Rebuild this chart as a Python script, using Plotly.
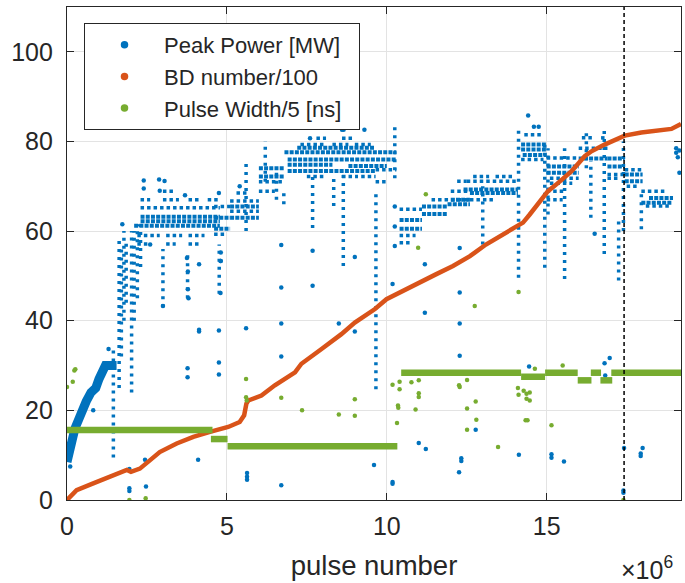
import plotly.graph_objects as go

# ---------------- data (x in units of 1e6 pulses) ----------------
# Peak Power [MW] -- initial conditioning ramp (centre of the thick band)
pp_ramp_x = [0.0, 0.05, 0.15, 0.25, 0.35, 0.5, 0.6, 0.75, 0.9, 1.0, 1.1, 1.2, 1.35, 1.55]
pp_ramp_y = [8.5, 11.0, 13.0, 16.0, 18.0, 20.0, 22.0, 24.0, 25.0, 27.0, 29.0, 30.0, 30.0, 30.0]

# Peak Power -- dense horizontal bands (start, end, level)
pp_dense_x0 = [2.3, 2.1, 2.3, 4.6, 4.6, 5.1, 5.1, 6.0, 6.0, 6.8, 6.9, 6.9, 8.8, 6.9, 7.2,
               10.4, 10.4, 11.1, 11.1, 11.9, 12.0, 12.4, 12.6, 14.2, 14.2, 14.25,
               15.0, 15.0, 16.0, 16.9, 16.9, 17.44, 17.44, 17.96, 18.2]
pp_dense_x1 = [4.78, 4.78, 4.78, 5.1, 5.1, 6.0, 6.0, 6.8, 6.8, 10.3, 10.3, 8.3, 10.0, 9.65, 9.6,
               11.1, 11.1, 11.9, 11.9, 12.6, 12.6, 14.1, 14.1, 15.0, 15.0, 15.0,
               16.0, 16.0, 16.9, 17.44, 17.44, 18.0, 18.0, 18.9, 18.95]
pp_dense_y = [63.2, 61.2, 62.2, 63.0, 60.5, 65.5, 63.0, 74.0, 72.2, 77.6, 76.0, 74.8, 74.5, 73.4, 78.6,
              62.5, 60.5, 65.5, 63.8, 66.0, 67.0, 69.3, 68.5, 79.3, 78.2, 77.0,
              74.4, 73.0, 76.2, 76.2, 74.4, 72.6, 71.1, 66.3, 67.4]

# Peak Power -- sparse rows of dots (start, end, level)
pp_sparse_x0 = [2.3, 2.3, 3.0, 3.8, 4.4, 2.2, 3.1, 3.8, 2.2, 3.1, 3.8, 3.0,
                4.6, 5.1, 5.1, 5.3, 4.6, 6.0, 6.0,
                7.5, 8.6, 9.2, 7.3, 8.3, 9.0, 7.8, 8.6, 9.65, 9.65,
                10.4, 10.4, 10.4, 11.4, 12.0, 12.2,
                12.5, 12.7, 13.4, 12.6, 14.3, 14.2,
                15.0, 15.1, 15.1, 15.0, 15.0, 16.0, 16.1, 16.7,
                16.9, 16.9, 17.44, 17.5, 17.96, 18.1]
pp_sparse_x1 = [4.78, 2.6, 3.5, 4.2, 4.78, 2.9, 3.6, 4.3, 2.6, 3.4, 4.2, 3.4,
                5.1, 6.0, 6.0, 5.7, 5.0, 6.8, 6.5,
                8.1, 9.1, 9.65, 8.1, 8.8, 9.5, 8.1, 9.0, 10.3, 10.0,
                11.1, 10.9, 10.8, 12.6, 12.6, 12.5,
                14.1, 13.2, 14.0, 13.4, 14.9, 14.9,
                16.0, 16.0, 15.8, 15.6, 15.5, 16.9, 16.5, 16.85,
                17.44, 17.3, 18.0, 17.9, 18.7, 18.9]
pp_sparse_y = [65.2, 67.0, 67.0, 67.0, 67.0, 59.0, 59.0, 59.0, 57.1, 57.1, 57.1, 68.9,
               65.5, 66.7, 64.4, 68.5, 59.3, 71.0, 68.9,
               72.2, 72.2, 72.2, 79.3, 79.3, 79.3, 80.7, 80.7, 73.7, 71.0,
               64.9, 59.0, 57.4, 67.0, 68.9, 71.1,
               71.1, 72.2, 72.2, 67.0, 81.5, 76.0,
               76.3, 71.8, 70.7, 68.9, 67.0, 78.5, 80.8, 80.8,
               72.6, 71.8, 73.7, 70.0, 68.9, 65.6]

# Peak Power -- vertical sprays of dots (position, lowest, highest)
pp_col_x = [1.45, 1.63, 1.7, 1.78, 1.85, 2.02, 2.1, 2.2, 2.3, 3.0, 3.77, 4.76, 5.6, 6.2,
            6.55, 6.78, 7.68, 8.34, 8.64, 9.66, 10.25, 13.0, 14.12, 14.94, 15.04, 15.56,
            16.24, 16.38, 16.8, 17.25, 17.4, 17.96]
pp_col_lo = [9.5, 25.0, 32.0, 40.0, 44.0, 24.0, 40.0, 45.0, 52.0, 43.0, 45.0, 46.0, 60.0, 71.0,
             67.0, 66.0, 60.7, 65.6, 52.2, 24.7, 71.8, 57.0, 49.6, 51.8, 63.7, 49.3,
             74.0, 63.0, 54.9, 49.0, 60.0, 60.4]
pp_col_hi = [34.0, 58.0, 56.0, 60.0, 58.0, 60.0, 60.0, 61.5, 61.5, 56.0, 55.0, 57.0, 76.0, 80.0,
             74.0, 69.0, 72.6, 72.6, 72.6, 69.0, 83.7, 70.0, 82.6, 79.3, 78.5, 78.5,
             82.6, 75.6, 83.3, 63.0, 80.0, 68.2]

# Peak Power -- isolated points
pp_pt_x = [0.82, 1.73, 1.95, 1.95, 1.95, 2.47, 2.44, 4.1, 3.77, 3.77, 4.13, 4.13,
           3.0, 3.8, 4.8, 4.75, 4.75, 4.75, 5.6, 6.7, 8.5, 9.0, 6.7, 5.63, 5.63,
           5.63, 6.7, 9.6, 10.18, 10.18, 11.19, 12.28, 12.28, 11.0, 11.22, 12.33,
           12.33, 12.26, 12.78, 14.13, 14.45, 15.15, 15.15, 15.54, 16.81, 16.97,
           16.83, 17.42, 17.4, 17.4, 17.94, 17.94, 18.0,
           2.4, 2.88, 3.05, 2.4, 2.9, 3.69, 4.75, 3.75, 3.78, 3.78, 4.13, 4.81,
           4.81, 6.7, 6.7, 7.68, 7.68, 9.0, 10.25, 10.25, 10.25, 10.18, 11.19,
           12.28, 12.28, 8.6, 8.65, 9.3, 7.6, 14.42, 14.6, 14.75, 16.5, 19.05,
           19.05, 19.1, 19.15, 19.15, 5.4, 2.6, 4.8, 0.1, 0.2, 1.3]
pp_pt_y = [20.0, 61.5, 2.0, 2.6, 6.9, 3.0, 9.0, 9.0, 29.4, 27.4, 38.0, 37.6,
           43.3, 45.0, 46.2, 37.8, 30.7, 28.0, 38.3, 39.4, 39.4, 37.6, 32.0, 6.0, 5.2,
           4.5, 3.3, 7.8, 4.0, 3.6, 41.8, 39.4, 32.2, 12.7, 11.4, 9.3,
           8.7, 6.2, 15.7, 10.1, 29.8, 10.2, 9.4, 8.6, 30.5, 31.7,
           27.8, 11.6, 2.1, 1.6, 10.4, 9.8, 11.6,
           71.3, 71.5, 71.2, 69.5, 69.0, 68.0, 68.5, 54.0, 51.0, 47.0, 52.6, 55.2,
           53.3, 56.9, 47.4, 55.6, 47.8, 54.2, 65.5, 61.0, 56.7, 48.2, 52.6,
           56.2, 46.3, 82.6, 82.6, 82.6, 80.7, 85.8, 83.3, 83.3, 59.4, 78.5,
           77.5, 76.5, 78.0, 73.0, 70.0, 57.0, 53.3, 7.5, 13.5, 33.7]

# BD number/100
bd_x = [0.0, 0.3, 0.82, 1.34, 1.87, 2.0, 2.28, 2.6, 2.9, 3.43, 3.95, 4.47, 4.78,
        5.04, 5.4, 5.54, 5.61, 5.67, 6.08, 6.5, 7.13, 7.33, 7.96, 8.58, 9.0, 9.63,
        9.99, 10.5, 11.03, 11.55, 12.07, 12.6, 13.1, 13.63, 14.05, 14.26, 14.47,
        14.73, 15.04, 15.35, 15.77, 16.19, 16.4, 16.81, 17.13, 17.44, 17.96,
        18.48, 18.9, 19.2]
bd_y = [0.0, 2.2, 3.7, 5.2, 6.7, 6.3, 7.0, 8.9, 10.7, 12.6, 14.1, 15.2, 15.9,
        16.3, 17.4, 18.9, 21.5, 22.2, 23.3, 25.6, 28.5, 30.4, 33.7, 37.0, 39.6, 42.6,
        44.8, 46.7, 48.5, 50.4, 52.2, 54.4, 57.0, 59.3, 61.1, 61.9, 63.7,
        65.9, 68.9, 70.7, 73.3, 76.7, 77.8, 79.3, 80.4, 81.3, 82.0,
        82.4, 82.8, 83.9]

# Pulse Width/5 [ns] -- plateaus (start, end, level)
pw_band_x0 = [0.0, 4.5, 5.02, 10.45, 14.2, 14.95, 15.97, 16.38, 16.68, 17.02]
pw_band_x1 = [4.55, 5.02, 10.33, 14.2, 14.95, 15.97, 16.4, 16.7, 17.05, 19.2]
pw_band_y = [15.6, 13.6, 12.0, 28.4, 27.5, 28.4, 26.7, 28.4, 26.7, 28.4]

# Pulse Width/5 [ns] -- isolated points
pw_pt_x = [0.0, 0.23, 0.18, 1.95, 2.46, 5.6, 5.6, 5.62, 6.7, 7.35, 8.5, 9.0, 9.0,
           10.18, 10.4, 10.4, 10.35, 10.36, 10.32, 10.77, 11.0, 11.0, 11.0, 10.9,
           12.26, 12.28, 12.51, 12.51, 12.78, 12.8, 12.51, 13.48, 12.75, 14.1,
           14.12, 14.28, 14.37, 14.34, 14.47, 14.37, 14.47, 14.4, 15.15, 15.5,
           14.63, 17.4, 11.22, 10.98, 14.12, 0.26]
pw_pt_y = [25.2, 28.9, 26.4, 0.0, 0.4, 27.0, 22.9, 22.2, 22.8, 20.0, 19.1, 22.5, 18.8,
           25.7, 26.4, 24.7, 21.1, 20.6, 17.2, 26.3, 26.7, 23.8, 23.0, 20.2,
           25.6, 25.2, 26.8, 20.4, 22.0, 17.9, 15.7, 11.8, 43.3, 25.0,
           23.5, 24.4, 22.6, 17.8, 24.0, 23.7, 22.2, 17.8, 16.7, 30.0,
           29.3, 0.0, 68.2, 56.3, 46.4, 29.2]

dashed_x = 17.42
x_range = [0, 19.2]
y_range = [0, 110]
x_ticks = [0, 5, 10, 15]
y_ticks = [0, 20, 40, 60, 80, 100]
legend_names = ["Peak Power [MW]", "BD number/100", "Pulse Width/5 [ns]\u00a0\u00a0"]

# ---------------- styling ----------------
BLUE = "#0072BD"
ORANGE = "#D95319"
GREEN = "#77AC30"
AX = "#262626"
FONT = "Liberation Sans, Arial, Helvetica, sans-serif"


def segs_h(x0s, x1s, ys):
    xs, yy = [], []
    for a, b, c in zip(x0s, x1s, ys):
        xs += [a, b, None]
        yy += [c, c, None]
    return xs, yy


def segs_v(xs_, lo, hi):
    xs, yy = [], []
    for a, b, c in zip(xs_, lo, hi):
        xs += [a, a, None]
        yy += [b, c, None]
    return xs, yy


fig = go.Figure()

# legend entries (no data of their own)
for nm, col, grp in zip(legend_names, [BLUE, ORANGE, GREEN], ["pp", "bd", "pw"]):
    fig.add_trace(go.Scatter(x=[None], y=[None], mode="markers", name=nm, legendgroup=grp,
                             marker=dict(color=col, size=7.5)))

# Peak power
fig.add_trace(go.Scatter(x=pp_pt_x, y=pp_pt_y, mode="markers", legendgroup="pp",
                         showlegend=False, marker=dict(color=BLUE, size=4.5)))
fig.add_trace(go.Scatter(x=pp_ramp_x, y=pp_ramp_y, mode="lines", legendgroup="pp",
                         showlegend=False, line=dict(color=BLUE, width=9)))
hx, hy = segs_h(pp_dense_x0, pp_dense_x1, pp_dense_y)
fig.add_trace(go.Scatter(x=hx, y=hy, mode="lines", legendgroup="pp", showlegend=False,
                         line=dict(color=BLUE, width=4, dash="4px,1.2px")))
sx, sy = segs_h(pp_sparse_x0, pp_sparse_x1, pp_sparse_y)
fig.add_trace(go.Scatter(x=sx, y=sy, mode="lines", legendgroup="pp", showlegend=False,
                         line=dict(color=BLUE, width=3.5, dash="3.5px,3px")))
vx, vy = segs_v(pp_col_x, pp_col_lo, pp_col_hi)
fig.add_trace(go.Scatter(x=vx, y=vy, mode="lines", legendgroup="pp", showlegend=False,
                         line=dict(color=BLUE, width=3.5, dash="3px,5px")))

# BD number
fig.add_trace(go.Scatter(x=bd_x, y=bd_y, mode="lines", legendgroup="bd", showlegend=False,
                         line=dict(color=ORANGE, width=4.5)))

# Pulse width
fig.add_trace(go.Scatter(x=pw_pt_x, y=pw_pt_y, mode="markers", legendgroup="pw",
                         showlegend=False, marker=dict(color=GREEN, size=4.5)))
gx, gy = segs_h(pw_band_x0, pw_band_x1, pw_band_y)
fig.add_trace(go.Scatter(x=gx, y=gy, mode="lines", legendgroup="pw", showlegend=False,
                         line=dict(color=GREEN, width=6.5)))

fig.add_shape(type="line", xref="x", yref="paper", x0=dashed_x, x1=dashed_x, y0=0, y1=1,
              line=dict(color="black", width=1.5, dash="4px,3px"))

axis_common = dict(showgrid=True, gridcolor="#e3e3e3", gridwidth=1, zeroline=False,
                   showline=True, linecolor=AX, linewidth=1.3, mirror="ticks",
                   ticks="inside", ticklen=7, tickwidth=1.1, tickcolor=AX,
                   tickfont=dict(family=FONT, size=25, color=AX))

fig.update_xaxes(range=x_range, tickvals=x_ticks, ticktext=[str(t) for t in x_ticks],
                 title=dict(text="pulse number", font=dict(family=FONT, size=27.5, color=AX),
                            standoff=16),
                 ticklabelstandoff=4, **axis_common)
fig.update_yaxes(range=y_range, tickvals=y_ticks, ticktext=[str(t) for t in y_ticks],
                 ticklabelstandoff=8, **axis_common)

fig.add_annotation(text="×10<sup>6</sup>", xref="paper", yref="paper", x=0.99, y=-0.138,
                   xanchor="right", yanchor="middle", showarrow=False,
                   font=dict(family=FONT, size=25, color=AX))

fig.update_layout(
    width=685, height=583,
    margin=dict(l=67, r=4, t=7, b=83),
    plot_bgcolor="white", paper_bgcolor="white",
    font=dict(family=FONT, color=AX),
    showlegend=True,
    legend=dict(x=0.0277, y=0.9675, xanchor="left", yanchor="top",
                bgcolor="white", bordercolor=AX, borderwidth=1,
                font=dict(family=FONT, size=22, color=AX),
                itemwidth=69, tracegroupgap=0),
)

fig.write_html("out.html", config={"displayModeBar": False},
               post_script="document.body.style.margin='0';")
